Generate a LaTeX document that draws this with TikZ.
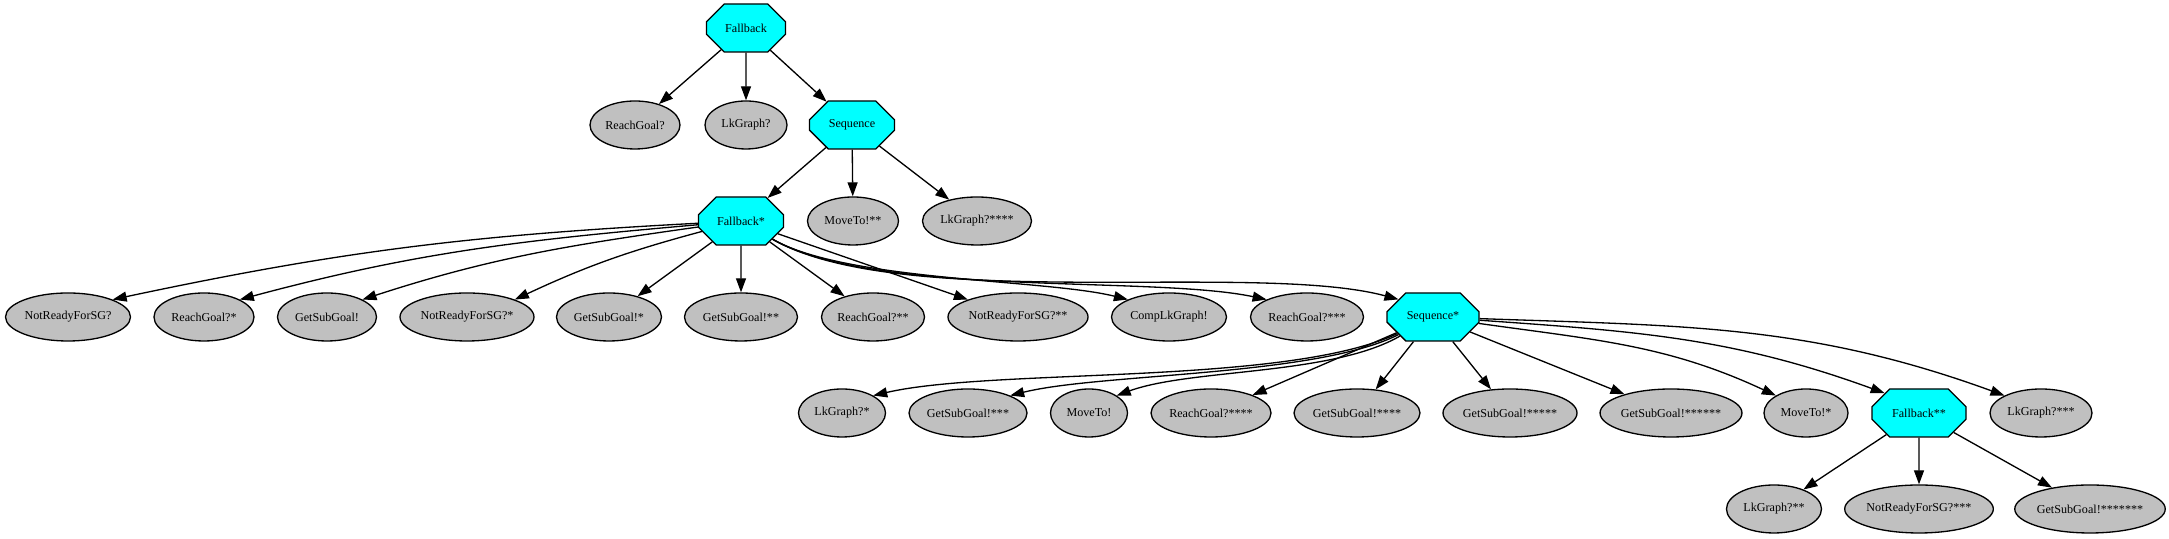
\documentclass[tikz,border=0pt]{standalone}
\usepackage{fontspec}
\setmainfont{Liberation Serif}
\usetikzlibrary{arrows.meta,shapes.geometric,shapes.misc}
\definecolor{leafgray}{RGB}{192,192,192}
\definecolor{octcyan}{RGB}{0,255,255}

\begin{document}
\begin{tikzpicture}[octnode/.style={chamfered rectangle, chamfered rectangle xsep=0.47cm, chamfered rectangle ysep=0.27cm, draw, fill=octcyan, inner sep=0pt, minimum height=0.96cm, line width=0.75pt},
    leafnode/.style={ellipse, draw, fill=leafgray, inner sep=0pt, minimum height=0.96cm, line width=0.75pt},
    arrowline/.style={-{Triangle[length=0.28cm,width=0.2cm]}, line width=0.75pt},
    font=\fontsize{6.9}{8}\selectfont]

    \useasboundingbox (0,0) rectangle (43.38,10.78);

    % top of the tree
    \node[octnode, minimum width=1.58cm] (fb) at (14.92,10.22) {Fallback};
    \node[leafnode, minimum width=1.80cm] (rg) at (12.70,8.28) {ReachGoal?};
    \node[leafnode, minimum width=1.64cm] (lk) at (14.92,8.28) {LkGraph?};
    \node[octnode, minimum width=1.70cm] (seq) at (17.04,8.28) {Sequence};
    \node[octnode, minimum width=1.70cm] (fbs) at (14.82,6.36) {Fallback*};
    \node[leafnode, minimum width=1.82cm] (mv2) at (17.06,6.36) {MoveTo!**};
    \node[leafnode, minimum width=2.18cm] (lk4) at (19.54,6.36) {LkGraph?****};

    % children of Fallback*
    \node[leafnode, minimum width=2.50cm] (nr) at (1.36,4.44) {NotReadyForSG?};
    \node[leafnode, minimum width=2.00cm] (rg1) at (4.08,4.44) {ReachGoal?*};
    \node[leafnode, minimum width=1.98cm] (gs) at (6.54,4.44) {GetSubGoal!};
    \node[leafnode, minimum width=2.68cm] (nr1) at (9.34,4.44) {NotReadyForSG?*};
    \node[leafnode, minimum width=2.10cm] (gs1) at (12.18,4.44) {GetSubGoal!*};
    \node[leafnode, minimum width=2.26cm] (gs2) at (14.82,4.44) {GetSubGoal!**};
    \node[leafnode, minimum width=2.06cm] (rg2) at (17.46,4.44) {ReachGoal?**};
    \node[leafnode, minimum width=2.80cm] (nr2) at (20.36,4.44) {NotReadyForSG?**};
    \node[leafnode, minimum width=2.30cm] (clk) at (23.38,4.44) {CompLkGraph!};
    \node[leafnode, minimum width=2.26cm] (rg3) at (26.14,4.44) {ReachGoal?***};
    \node[octnode, minimum width=1.84cm] (seqs) at (28.66,4.44) {Sequence*};

    % children of Sequence*
    \node[leafnode, minimum width=1.74cm] (lk1) at (16.84,2.52) {LkGraph?*};
    \node[leafnode, minimum width=2.36cm] (gs3) at (19.36,2.52) {GetSubGoal!***};
    \node[leafnode, minimum width=1.54cm] (mv) at (21.78,2.52) {MoveTo!};
    \node[leafnode, minimum width=2.40cm] (rg4) at (24.22,2.52) {ReachGoal?****};
    \node[leafnode, minimum width=2.52cm] (gs4) at (27.14,2.52) {GetSubGoal!****};
    \node[leafnode, minimum width=2.68cm] (gs5) at (30.20,2.52) {GetSubGoal!*****};
    \node[leafnode, minimum width=2.82cm] (gs6) at (33.42,2.52) {GetSubGoal!******};
    \node[leafnode, minimum width=1.68cm] (mv1) at (36.12,2.52) {MoveTo!*};
    \node[octnode, minimum width=1.88cm] (fbss) at (38.38,2.52) {Fallback**};
    \node[leafnode, minimum width=2.04cm] (lk3) at (40.82,2.52) {LkGraph?***};

    % children of Fallback**
    \node[leafnode, minimum width=1.90cm] (lk2) at (35.48,0.60) {LkGraph?**};
    \node[leafnode, minimum width=2.92cm] (nr3) at (38.38,0.60) {NotReadyForSG?***};
    \node[leafnode, minimum width=2.94cm] (gs7) at (41.80,0.60) {GetSubGoal!*******};

    \draw[arrowline] (fb) -- (rg);
    \draw[arrowline] (fb) -- (lk);
    \draw[arrowline] (fb) -- (seq);
    \draw[arrowline] (seq) -- (fbs);
    \draw[arrowline] (seq) -- (mv2);
    \draw[arrowline] (seq) -- (lk4);

    \draw[arrowline] (fbs) to[out=183, in=12] (nr.north east);
    \draw[arrowline] (fbs) to[out=185, in=15] (rg1.north east);
    \draw[arrowline] (fbs) to[out=188, in=18] (gs.north east);
    \draw[arrowline] (fbs) to[out=195, in=25] (nr1.north east);
    \draw[arrowline] (fbs) -- (gs1);
    \draw[arrowline] (fbs) -- (gs2);
    \draw[arrowline] (fbs) -- (rg2);
    \draw[arrowline] (fbs) -- (nr2);
    \draw[arrowline] (fbs) to[out=-30, in=166, looseness=0.6] (clk.north west);
    \draw[arrowline] (fbs) to[out=-30, in=168, looseness=0.6] (rg3.north west);
    \draw[arrowline] (fbs) to[out=-30, in=165, looseness=0.6] (seqs.153);

    \draw[arrowline] (seqs) to[out=205, in=13, looseness=0.6] (lk1.north east);
    \draw[arrowline] (seqs) to[out=207, in=14, looseness=0.6] (gs3.north east);
    \draw[arrowline] (seqs) to[out=210, in=20, looseness=0.7] (mv.north east);
    \draw[arrowline] (seqs) -- (rg4);
    \draw[arrowline] (seqs) -- (gs4);
    \draw[arrowline] (seqs) -- (gs5);
    \draw[arrowline] (seqs) -- (gs6);
    \draw[arrowline] (seqs) to[out=-8, in=155] (mv1.north west);
    \draw[arrowline] (seqs) to[out=-4, in=160] (fbss.150);
    \draw[arrowline] (seqs) to[out=-2, in=160] (lk3.north west);

    \draw[arrowline] (fbss) -- (lk2);
    \draw[arrowline] (fbss) -- (nr3);
    \draw[arrowline] (fbss) -- (gs7);

\end{tikzpicture}
\end{document}
